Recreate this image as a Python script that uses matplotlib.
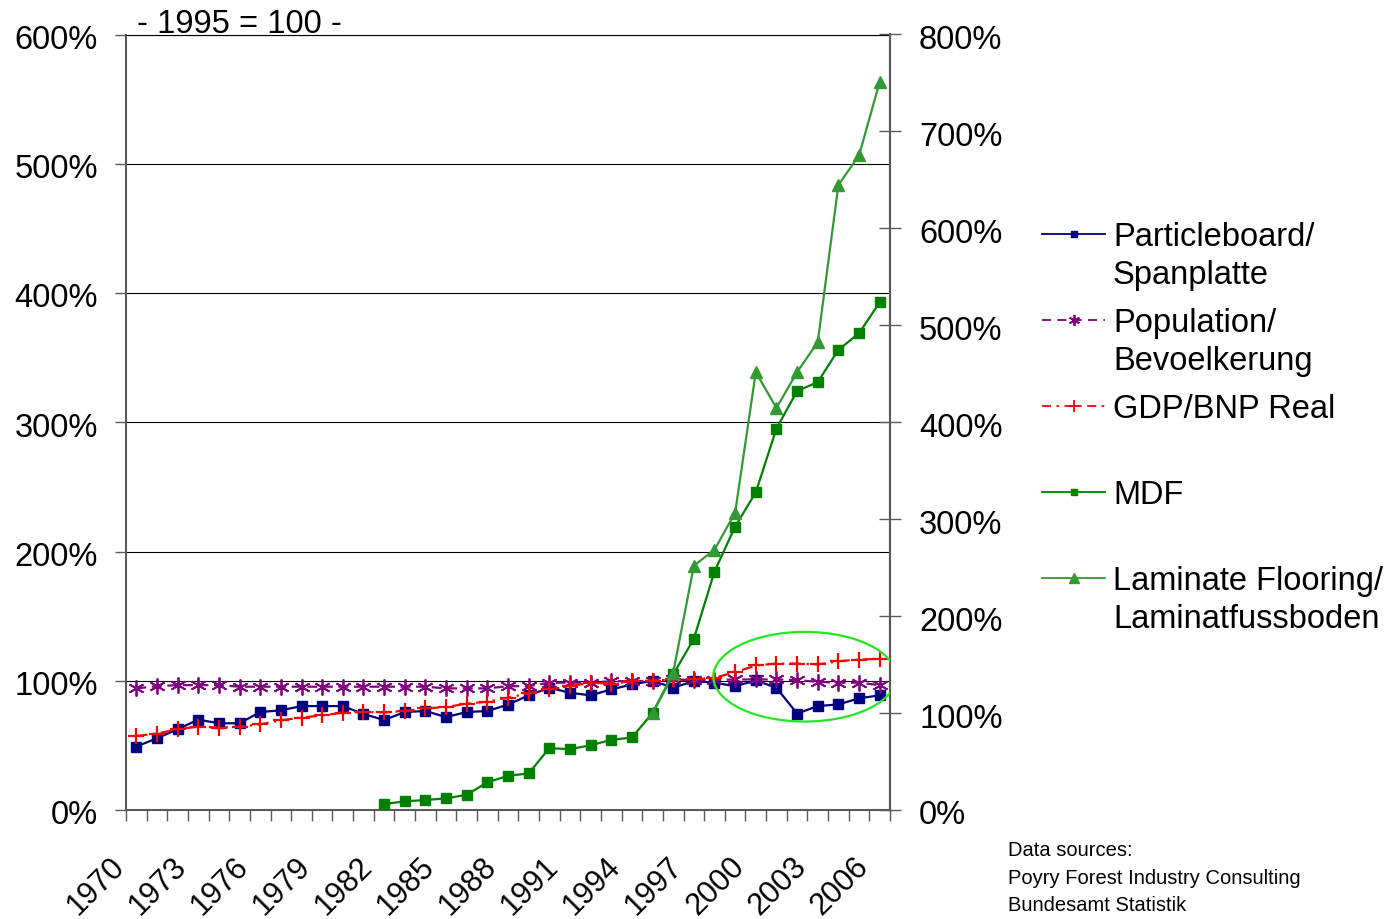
import numpy as np
import matplotlib
matplotlib.use("Agg")
import matplotlib.pyplot as plt
from matplotlib.lines import Line2D
from matplotlib.patches import Ellipse
from matplotlib.transforms import ScaledTranslation

plt.rcParams['font.family'] = ['Liberation Sans', 'DejaVu Sans']

# ---- data (index, 1995 = 100) ----
years = list(range(1970, 2007))
particleboard = [49.1, 55.5, 62.5, 69.9, 67.1, 67.1, 75.8, 77.1, 80.4, 80.4,
                 80.4, 74.3, 69.6, 75.8, 76.6, 71.9, 75.8, 76.6, 81.5, 88.7,
                 94.6, 90.7, 88.7, 93.3, 97.1, 100.0, 94.6, 99.7, 98.5, 95.8,
                 100.2, 94.6, 74.6, 80.4, 81.7, 86.4, 88.7]
population = [94.1, 95.8, 96.6, 96.6, 96.6, 95.4, 95.4, 95.4, 95.4, 95.4,
              95.4, 95.4, 95.4, 95.4, 95.4, 94.1, 94.1, 94.1, 95.8, 95.8,
              98.5, 98.5, 98.5, 99.7, 99.7, 100.0, 101.0, 100.5, 100.5, 101.0,
              101.0, 101.0, 100.5, 99.2, 98.5, 98.5, 96.6]
gdp = [57.3, 59.1, 62.5, 64.5, 63.8, 64.5, 66.3, 69.4, 71.5, 73.2,
       75.3, 75.8, 75.5, 76.6, 78.6, 79.6, 82.3, 83.8, 86.9, 90.2,
       93.3, 95.8, 98.5, 97.7, 99.7, 100.0, 101.0, 101.0, 102.3, 106.6,
       111.8, 113.3, 113.3, 112.6, 115.1, 116.4, 117.0]
mdf_years = list(range(1982, 2007))
mdf = [6.2, 8.9, 10.3, 12.0, 15.7, 28.5, 35.3, 37.7, 63.8, 62.7,
       66.8, 72.3, 74.8, 100.0, 139.8, 176.6, 246.0, 292.3, 327.7, 393.5,
       432.2, 441.4, 474.7, 491.8, 523.7]
laminate_years = list(range(1995, 2007))
laminate = [100.0, 141.6, 252.0, 268.4, 306.7, 451.7, 414.7, 451.7, 482.6,
            644.7, 675.3, 751.0]

label_years = list(range(1970, 2007, 3))
left_ticks = list(range(0, 601, 100))
right_ticks = list(range(0, 801, 100))

labels = ["Particleboard/\nSpanplatte", "Population/\nBevoelkerung",
          "GDP/BNP Real", "MDF", "Laminate Flooring/\nLaminatfussboden"]
sources = ["Data sources:", "Poyry Forest Industry Consulting",
           "Bundesamt Statistik"]

# ---- styles ----
C_PB = '#000080'
C_POP = '#800080'
C_GDP = '#FF0000'
C_MDF = '#008000'
C_LAM = '#339933'
AX_C = '#595959'
FS = 23.5

W, H = 1391, 920
AX_TOP, AX_BOT = 35.5, 811.0
fig = plt.figure(figsize=(W / 100, H / 100), dpi=100)
ax = fig.add_axes([126 / W, 1 - AX_BOT / H, 764 / W, (AX_BOT - AX_TOP) / H])
ax2 = ax.twinx()

x_all = np.array(years) - years[0]
x_mdf = np.array(mdf_years) - years[0]
x_lam = np.array(laminate_years) - years[0]

pop_style = dict(color=C_POP, lw=1.6, dashes=[4.5, 2.5], marker=(6, 2, 0),
                 ms=11.5, mew=1.3, mec=C_POP)
gdp_style = dict(color=C_GDP, lw=1.6, dashes=[5, 2.5, 1, 2.5], marker='+',
                 ms=11.5, mew=1.6, mec=C_GDP)
pb_style = dict(color=C_PB, lw=1.6, marker='s', ms=7.5, mfc=C_PB, mec=C_PB)
mdf_style = dict(color=C_MDF, lw=1.6, marker='s', ms=7.5, mfc=C_MDF, mec=C_MDF)
lam_style = dict(color=C_LAM, lw=1.6, marker='^', ms=9, mfc=C_LAM, mec=C_LAM)

ax.plot(x_all, particleboard, zorder=3, **pb_style)
ax.plot(x_all, population, zorder=4, **pop_style)
ax.plot(x_all, gdp, zorder=5, **gdp_style)
ax2.plot(x_mdf, mdf, zorder=3, **mdf_style)
ax2.plot(x_lam, laminate, zorder=4, **lam_style)

# highlight of the recent years
ax2.add_patch(Ellipse((32.37, 137.5), 8.85, 92.5, fill=False,
                      edgecolor='#22e822', lw=1.6, zorder=6))

# ---- axes ----
n = len(years)
ax.set_xlim(-0.5, n - 0.5)
ax.set_ylim(0, 600)
ax2.set_ylim(0, 800)

ax.set_yticks(left_ticks)
ax.set_yticklabels([f"{v}%" for v in left_ticks])
ax2.set_yticks(right_ticks)
ax2.set_yticklabels([f"{v}%" for v in right_ticks])

ax.set_xticks(np.arange(-0.5, n, 1.0))
ax.set_xticklabels([])
ax.set_xticks([y - years[0] for y in label_years], minor=True)
ax.set_xticklabels([str(y) for y in label_years], minor=True,
                   rotation=45, ha='right', va='center',
                   rotation_mode='anchor', fontsize=22)
ax.tick_params(axis='x', which='minor', length=0, pad=37)
ax.tick_params(axis='x', which='major', direction='out', length=7.9,
               width=1, color=AX_C)
shift = ScaledTranslation(-16 / 100, 0, fig.dpi_scale_trans)
for lab in ax.get_xticklabels(minor=True):
    lab.set_transform(lab.get_transform() + shift)

ax.tick_params(axis='y', direction='out', length=7.9, width=1, color=AX_C,
               labelsize=FS, pad=12.2)
ax2.tick_params(axis='y', direction='inout', length=15.8, width=1,
                color=AX_C, labelsize=FS, pad=13)
down = ScaledTranslation(0, -1.5 / 100, fig.dpi_scale_trans)
for lab in ax.get_yticklabels() + ax2.get_yticklabels():
    lab.set_transform(lab.get_transform() + down)

ax.yaxis.grid(True, color='black', lw=0.8)
ax.set_axisbelow(True)

for s in ['left', 'bottom', 'right']:
    ax.spines[s].set_color(AX_C)
    ax.spines[s].set_linewidth(1.5)
ax.spines['top'].set_color('black')
ax.spines['top'].set_linewidth(0.8)
for s in ['left', 'bottom', 'top']:
    ax2.spines[s].set_visible(False)
ax2.spines['right'].set_color(AX_C)
ax2.spines['right'].set_linewidth(1.5)

up = ScaledTranslation(0, 2.5 / 100, fig.dpi_scale_trans)
ax.text(0.0144, 1.0, "- 1995 = 100 -", transform=ax.transAxes + up,
        ha='left', va='baseline', fontsize=FS)

# ---- legend ----
def fx(px):
    return px / W


def fy(py):
    return 1 - py / H


handle_styles = [
    dict(color=C_PB, lw=1.3, marker='s', ms=5, mfc=C_PB, mec=C_PB),
    dict(color=C_POP, lw=1.3, dashes=[5, 3.5], marker=(6, 2, 0), ms=8,
         mew=1.3, mec=C_POP),
    dict(color=C_GDP, lw=1.3, dashes=[5, 3, 1.5, 3], marker='+', ms=9,
         mew=1.3, mec=C_GDP),
    dict(color=C_MDF, lw=1.3, marker='s', ms=5, mfc=C_MDF, mec=C_MDF),
    dict(color=C_LAM, lw=1.3, marker='^', ms=6.5, mfc=C_LAM, mec=C_LAM),
]
MK_KEYS = ('marker', 'ms', 'mfc', 'mec', 'mew')
entry_y = [234.5, 320.5, 406.5, 492.5, 578.5]
line_gap = 38.0
for lab, sty, ey in zip(labels, handle_styles, entry_y):
    line_kw = {k: v for k, v in sty.items() if k not in MK_KEYS}
    mk_kw = {k: v for k, v in sty.items() if k in MK_KEYS}
    fig.add_artist(Line2D([fx(1042), fx(1105)], [fy(ey), fy(ey)],
                          transform=fig.transFigure, **line_kw))
    fig.add_artist(Line2D([fx(1073.5)], [fy(ey)], transform=fig.transFigure,
                          linestyle='none', **mk_kw))
    for i, part in enumerate(lab.split("\n")):
        fig.text(fx(1113), fy(ey + 11.5 + i * line_gap), part,
                 ha='left', va='baseline', fontsize=FS)

# ---- sources ----
for i, s in enumerate(sources):
    fig.text(fx(1008), fy(856.5 + i * 27.5), s, ha='left', va='baseline',
             fontsize=14.5)

fig.savefig("out.png", dpi=100)
